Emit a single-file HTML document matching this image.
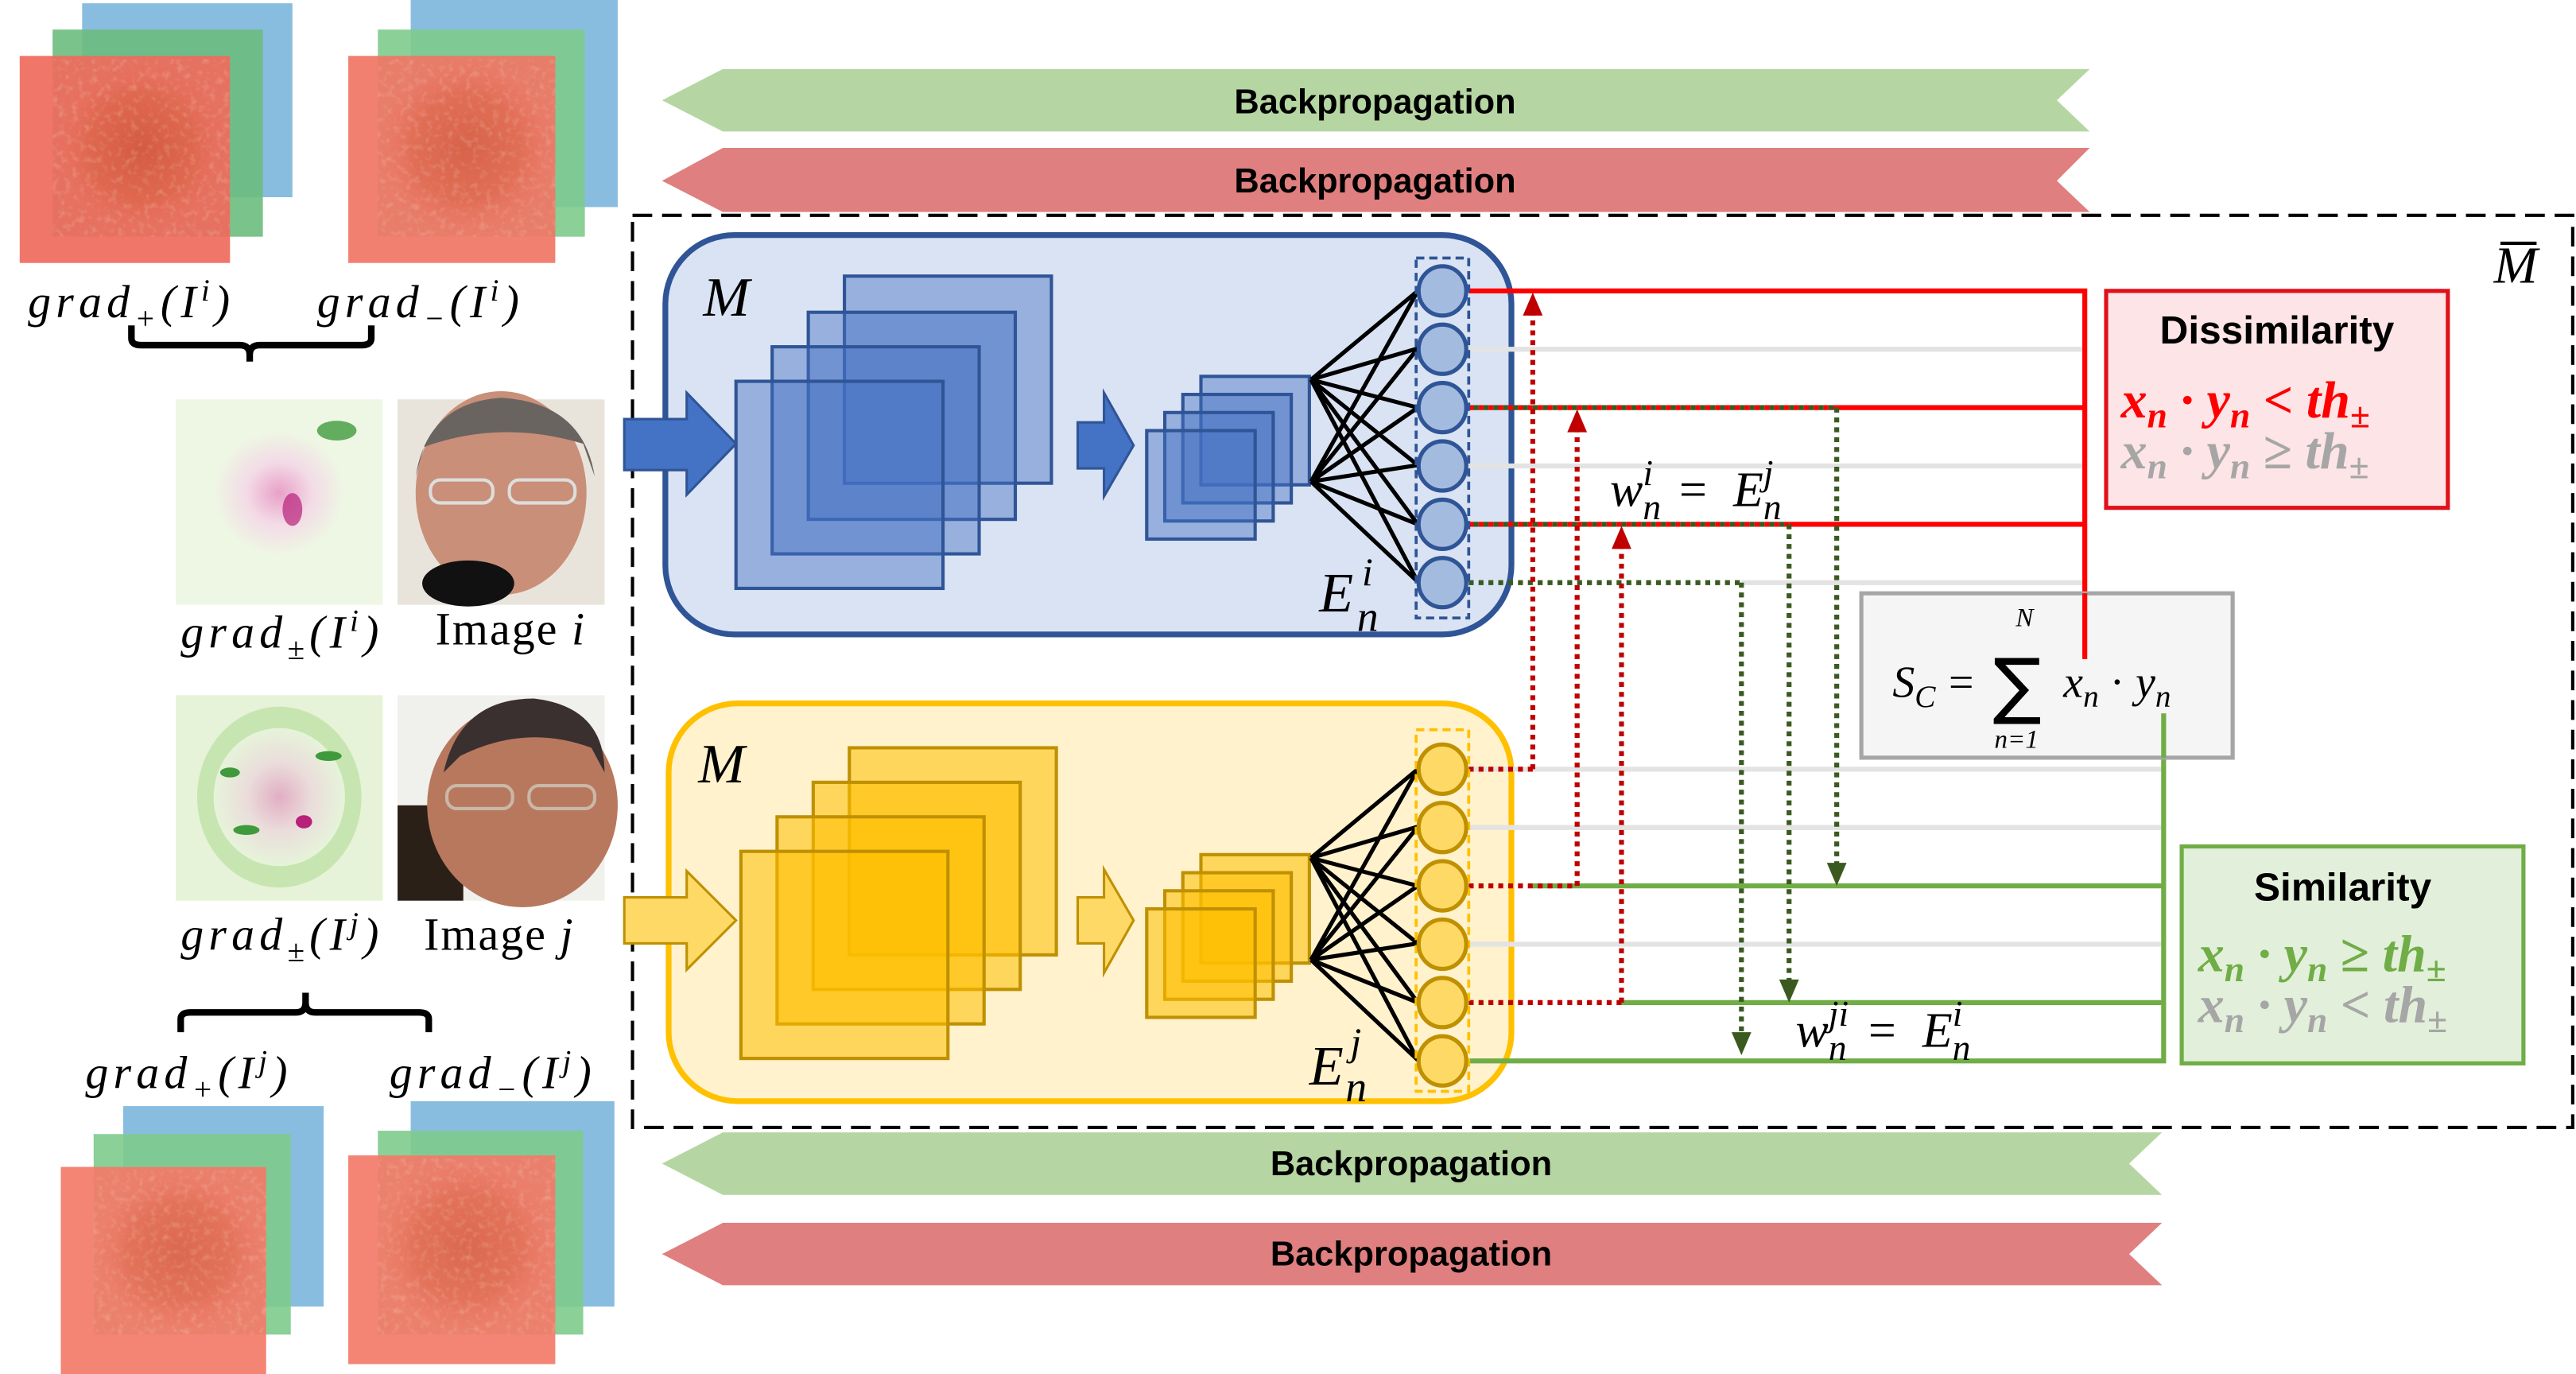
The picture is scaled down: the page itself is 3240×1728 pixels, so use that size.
<!DOCTYPE html>
<html><head><meta charset="utf-8"><style>
html,body{margin:0;padding:0;background:#fff}
svg{display:block}
.m{font-family:"Liberation Serif",serif;font-style:italic}
.b{font-family:"Liberation Sans",sans-serif;font-weight:bold}
</style></head><body>
<svg width="3240" height="1728" viewBox="0 0 1568 836" preserveAspectRatio="none" xmlns="http://www.w3.org/2000/svg">
<defs>
<filter id="tex" x="0" y="0" width="100%" height="100%">
<feTurbulence type="fractalNoise" baseFrequency="0.25" numOctaves="2" seed="3"/>
<feColorMatrix type="matrix" values="0 0 0 0 0.95  0 0 0 0 0.85  0 0 0 0 0.75  0 0 0 1.4 -0.7"/>
</filter>
<radialGradient id="gp" cx="0.5" cy="0.5" r="0.5"><stop offset="0" stop-color="#e8a0c8"/><stop offset="0.5" stop-color="#f3dbe6"/><stop offset="1" stop-color="#eef7e4"/></radialGradient>
<radialGradient id="rc" cx="0.5" cy="0.5" r="0.5"><stop offset="0" stop-color="#cc5234"/><stop offset="0.6" stop-color="#dc6448"/><stop offset="1" stop-color="#ef7060" stop-opacity="0"/></radialGradient>
</defs>

<!-- gradient stacks -->
<g>
<rect x="50" y="2" width="128" height="118" fill="#88bde0"/>
<rect x="32" y="18" width="128" height="126" fill="#6cbd7e" opacity="0.9"/>
<rect x="12" y="34" width="128" height="126" fill="#ef6a5c" opacity="0.92"/>
<rect x="32" y="36" width="108" height="108" fill="url(#rc)" opacity="0.7"/>
<rect x="32" y="36" width="108" height="108" filter="url(#tex)" opacity="0.4"/>

<rect x="250" y="0" width="126" height="126" fill="#88bde0"/>
<rect x="230" y="18" width="126" height="126" fill="#7ecb8c" opacity="0.9"/>
<rect x="212" y="34" width="126" height="126" fill="#f07565" opacity="0.92"/>
<rect x="230" y="36" width="108" height="108" fill="url(#rc)" opacity="0.6"/>
<rect x="230" y="36" width="108" height="108" filter="url(#tex)" opacity="0.4"/>

<rect x="75" y="673" width="122" height="122" fill="#88bde0"/>
<rect x="57" y="690" width="120" height="122" fill="#7ecb8c" opacity="0.9"/>
<rect x="37" y="710" width="125" height="126" fill="#f37a68" opacity="0.92"/>
<rect x="57" y="712" width="105" height="100" fill="url(#rc)" opacity="0.5"/>
<rect x="57" y="712" width="105" height="100" filter="url(#tex)" opacity="0.4"/>

<rect x="250" y="670" width="124" height="125" fill="#88bde0"/>
<rect x="230" y="688" width="125" height="124" fill="#7ecb8c" opacity="0.9"/>
<rect x="212" y="703" width="126" height="127" fill="#f37a68" opacity="0.92"/>
<rect x="230" y="705" width="108" height="107" fill="url(#rc)" opacity="0.5"/>
<rect x="230" y="705" width="108" height="107" filter="url(#tex)" opacity="0.4"/>
</g>

<!-- grad± and photos -->
<rect x="107" y="243" width="126" height="125" fill="#eef7e4"/>
<ellipse cx="170" cy="300" rx="40" ry="38" fill="url(#gp)"/>
<ellipse cx="205" cy="262" rx="12" ry="6" fill="#3f9a3c" opacity="0.8"/>
<ellipse cx="178" cy="310" rx="6" ry="10" fill="#b8207a" opacity="0.7"/>
<rect x="107" y="423" width="126" height="125" fill="#e6f3d8"/>
<ellipse cx="170" cy="485" rx="50" ry="55" fill="#c7e5b0"/>
<ellipse cx="170" cy="485" rx="40" ry="42" fill="url(#gp)" opacity="0.8"/>
<ellipse cx="140" cy="470" rx="6" ry="3" fill="#3f9a3c"/><ellipse cx="200" cy="460" rx="8" ry="3" fill="#3f9a3c"/>
<ellipse cx="150" cy="505" rx="8" ry="3" fill="#3f9a3c"/><ellipse cx="185" cy="500" rx="5" ry="4" fill="#b8207a"/>

<rect x="242" y="243" width="126" height="125" fill="#e8e4dc"/>
<ellipse cx="305" cy="300" rx="52" ry="62" fill="#c98f78"/>
<path d="M253 290 Q260 245 305 242 Q355 245 362 290 L355 270 Q305 255 258 272Z" fill="#6a6460"/>
<rect x="262" y="292" width="38" height="14" rx="6" fill="none" stroke="#ddd" stroke-width="2"/>
<rect x="310" y="292" width="40" height="14" rx="6" fill="none" stroke="#ddd" stroke-width="2"/>
<ellipse cx="285" cy="355" rx="28" ry="14" fill="#111"/>
<rect x="242" y="423" width="126" height="125" fill="#f0f0ec"/>
<rect x="242" y="490" width="40" height="58" fill="#2a2018"/>
<ellipse cx="318" cy="490" rx="58" ry="62" fill="#b8785e"/>
<path d="M270 470 Q280 425 325 425 Q368 430 368 470 L360 455 Q320 440 280 460Z" fill="#3a3030"/>
<rect x="272" y="478" width="40" height="14" rx="6" fill="none" stroke="#c9b8a8" stroke-width="2"/>
<rect x="322" y="478" width="40" height="14" rx="6" fill="none" stroke="#c9b8a8" stroke-width="2"/>

<!-- left labels -->
<g class="m" font-size="28" fill="#000">
<text x="17" y="193" letter-spacing="3">grad<tspan font-size="19" dy="7">+</tspan><tspan dy="-7">(I</tspan><tspan font-size="19" dy="-10">i</tspan><tspan dy="10">)</tspan></text>
<text x="193" y="193" letter-spacing="3">grad<tspan font-size="19" dy="7">−</tspan><tspan dy="-7">(I</tspan><tspan font-size="19" dy="-10">i</tspan><tspan dy="10">)</tspan></text>
<text x="110" y="394" letter-spacing="3">grad<tspan font-size="19" dy="7">±</tspan><tspan dy="-7">(I</tspan><tspan font-size="19" dy="-10">i</tspan><tspan dy="10">)</tspan></text>
<text x="110" y="578" letter-spacing="3">grad<tspan font-size="19" dy="7">±</tspan><tspan dy="-7">(I</tspan><tspan font-size="19" dy="-10">j</tspan><tspan dy="10">)</tspan></text>
<text x="52" y="662" letter-spacing="3">grad<tspan font-size="19" dy="7">+</tspan><tspan dy="-7">(I</tspan><tspan font-size="19" dy="-10">j</tspan><tspan dy="10">)</tspan></text>
<text x="237" y="662" letter-spacing="3">grad<tspan font-size="19" dy="7">−</tspan><tspan dy="-7">(I</tspan><tspan font-size="19" dy="-10">j</tspan><tspan dy="10">)</tspan></text>
</g>
<g font-family="Liberation Serif,serif" font-size="28">
<text x="265" y="392" letter-spacing="1">Image <tspan font-style="italic">i</tspan></text>
<text x="258" y="578" letter-spacing="1">Image <tspan font-style="italic">j</tspan></text>
</g>
<path d="M80 198 V206 Q80 210 86 210 H146 Q152 210 152 216 V220 M152 216 Q152 210 158 210 H220 Q226 210 226 206 V198" fill="none" stroke="#000" stroke-width="4"/>
<path d="M110 628 V620 Q110 616 116 616 H180 Q186 616 186 610 V604 M186 610 Q186 616 192 616 H255 Q261 616 261 620 V628" fill="none" stroke="#000" stroke-width="4"/>

<!-- backprop arrows -->
<polygon points="403,61 440,42 1272,42 1252,61 1272,80 440,80" fill="#b5d6a2"/>
<polygon points="403,110 440,90 1272,90 1252,110 1272,129 440,129" fill="#e07f7f"/>
<polygon points="403,708 440,689 1316,689 1296,708 1316,727 440,727" fill="#b5d6a2"/>
<polygon points="403,763 440,744 1316,744 1296,763 1316,782 440,782" fill="#e07f7f"/>
<g class="b" font-size="21" text-anchor="middle">
<text x="837" y="69">Backpropagation</text>
<text x="837" y="117">Backpropagation</text>
<text x="859" y="715">Backpropagation</text>
<text x="859" y="770">Backpropagation</text>
</g>

<!-- dashed outer box -->
<rect x="385" y="131" width="1181" height="555" fill="none" stroke="#000" stroke-width="2" stroke-dasharray="12,6"/>
<text class="m" x="1518" y="172" font-size="32">M</text>
<line x1="1522" y1="148" x2="1544" y2="148" stroke="#000" stroke-width="2"/>

<!-- blue panel -->
<rect x="405" y="143" width="515" height="243" rx="42" fill="#dae3f3" stroke="#2f5597" stroke-width="3.5"/>
<g fill="#4472c4" fill-opacity="0.45" stroke="#2f5597" stroke-width="2">
<rect x="514" y="168" width="126" height="126"/><rect x="492" y="190" width="126" height="126"/>
<rect x="470" y="211" width="126" height="126"/><rect x="448" y="232" width="126" height="126"/>
<rect x="731" y="229" width="66" height="66"/><rect x="720" y="240" width="66" height="66"/>
<rect x="709" y="251" width="66" height="66"/><rect x="698" y="262" width="66" height="66"/>
</g>
<polygon points="380,255 418,255 418,239 448,270 418,301 418,286 380,286" fill="#4472c4" stroke="#2f5597" stroke-width="1.5"/>
<polygon points="656,257 672,257 672,239 690,271 672,302 672,285 656,285" fill="#4472c4" stroke="#2f5597" stroke-width="1.5"/>

<!-- yellow panel -->
<rect x="407" y="428" width="513" height="242" rx="42" fill="#fff2cc" stroke="#ffc000" stroke-width="3.5"/>
<g fill="#ffc000" fill-opacity="0.55" stroke="#bf9000" stroke-width="2">
<rect x="517" y="455" width="126" height="126"/><rect x="495" y="476" width="126" height="126"/>
<rect x="473" y="497" width="126" height="126"/><rect x="451" y="518" width="126" height="126"/>
<rect x="731" y="520" width="66" height="66"/><rect x="720" y="531" width="66" height="66"/>
<rect x="709" y="542" width="66" height="66"/><rect x="698" y="553" width="66" height="66"/>
</g>
<polygon points="380,546 418,546 418,530 448,560 418,590 418,574 380,574" fill="#ffd966" stroke="#bf9000" stroke-width="1.5"/>
<polygon points="656,546 672,546 672,529 690,560 672,592 672,574 656,574" fill="#ffd966" stroke="#bf9000" stroke-width="1.5"/>

<g class="m" font-size="34">
<text x="428" y="192">M</text><text x="425" y="476">M</text>
<text x="803" y="372">E</text><text x="826" y="384" font-size="26">n</text><text x="829" y="356" font-size="24">i</text>
<text x="797" y="660">E</text><text x="819" y="670" font-size="26">n</text><text x="822" y="642" font-size="24">j</text>
</g>

<!-- fan connections -->
<g stroke="#000" stroke-width="2.5" fill="none">
<path d="M798 231 L863 177 M798 231 L863 212 M798 231 L863 248 M798 231 L863 283 M798 231 L863 319 M798 231 L863 354"/>
<path d="M798 293 L863 177 M798 293 L863 212 M798 293 L863 248 M798 293 L863 283 M798 293 L863 319 M798 293 L863 354"/>
<path d="M798 522 L863 468 M798 522 L863 503 M798 522 L863 539 M798 522 L863 574 M798 522 L863 610 M798 522 L863 645"/>
<path d="M798 584 L863 468 M798 584 L863 503 M798 584 L863 539 M798 584 L863 574 M798 584 L863 610 M798 584 L863 645"/>
</g>

<!-- right side lines -->
<g stroke-width="3" fill="none">
<line x1="894" y1="212.5" x2="1269" y2="212.5" stroke="#e3e3e3"/>
<line x1="894" y1="283.5" x2="1269" y2="283.5" stroke="#e3e3e3"/>
<line x1="1060" y1="354.5" x2="1269" y2="354.5" stroke="#e3e3e3"/>
<line x1="894" y1="468" x2="1317" y2="468" stroke="#e3e3e3"/>
<line x1="894" y1="503.5" x2="1317" y2="503.5" stroke="#e3e3e3"/>
<line x1="894" y1="574.5" x2="1317" y2="574.5" stroke="#e3e3e3"/>
<path d="M894 177 H1269 V401" stroke="#ff0000"/>
<line x1="1118" y1="248" x2="1269" y2="248" stroke="#ff0000"/>
<line x1="1089" y1="319" x2="1269" y2="319" stroke="#ff0000"/>
<line x1="894" y1="248" x2="1118" y2="248" stroke="#ff0000" stroke-dasharray="3,3"/>
<line x1="897" y1="248" x2="1118" y2="248" stroke="#3a5a20" stroke-dasharray="3,3"/>
<line x1="894" y1="319" x2="1089" y2="319" stroke="#ff0000" stroke-dasharray="3,3"/>
<line x1="897" y1="319" x2="1089" y2="319" stroke="#3a5a20" stroke-dasharray="3,3"/>
<line x1="894" y1="354.5" x2="1060" y2="354.5" stroke="#3a5a20" stroke-dasharray="3,3"/>
<line x1="933" y1="539" x2="1317" y2="539" stroke="#70ad47"/>
<line x1="987" y1="610" x2="1317" y2="610" stroke="#70ad47"/>
<path d="M894 645.5 H1317 V434" stroke="#70ad47"/>
<line x1="894" y1="468" x2="933" y2="468" stroke="#c00000" stroke-dasharray="3,3"/>
<line x1="894" y1="539" x2="960" y2="539" stroke="#c00000" stroke-dasharray="3,3"/>
<line x1="894" y1="610" x2="987" y2="610" stroke="#c00000" stroke-dasharray="3,3"/>
<line x1="933" y1="468" x2="933" y2="190" stroke="#c00000" stroke-dasharray="3,3"/>
<line x1="960" y1="539" x2="960" y2="261" stroke="#c00000" stroke-dasharray="3,3"/>
<line x1="987" y1="610" x2="987" y2="332" stroke="#c00000" stroke-dasharray="3,3"/>
<line x1="1118" y1="248" x2="1118" y2="527" stroke="#3a5a20" stroke-dasharray="3,3"/>
<line x1="1089" y1="319" x2="1089" y2="598" stroke="#3a5a20" stroke-dasharray="3,3"/>
<line x1="1060" y1="354.5" x2="1060" y2="633" stroke="#3a5a20" stroke-dasharray="3,3"/>
</g>
<g>
<polygon points="933,178 927,192 939,192" fill="#c00000"/>
<polygon points="960,249 954,263 966,263" fill="#c00000"/>
<polygon points="987,320 981,334 993,334" fill="#c00000"/>
<polygon points="1118,539 1112,525 1124,525" fill="#3a5a20"/>
<polygon points="1089,610 1083,596 1095,596" fill="#3a5a20"/>
<polygon points="1060,642 1054,628 1066,628" fill="#3a5a20"/>
</g>

<!-- neurons -->
<rect x="862" y="157" width="32" height="219" fill="none" stroke="#2f5597" stroke-width="1.8" stroke-dasharray="5,3"/>
<rect x="862" y="444" width="32" height="220" fill="none" stroke="#ffc000" stroke-width="1.8" stroke-dasharray="5,3"/>
<g fill="#a4bbe0" stroke="#2f5597" stroke-width="2.5">
<ellipse cx="878" cy="177" rx="14.5" ry="15"/><ellipse cx="878" cy="212.5" rx="14.5" ry="15"/>
<ellipse cx="878" cy="248" rx="14.5" ry="15"/><ellipse cx="878" cy="283.5" rx="14.5" ry="15"/>
<ellipse cx="878" cy="319" rx="14.5" ry="15"/><ellipse cx="878" cy="354.5" rx="14.5" ry="15"/>
</g>
<g fill="#ffd966" stroke="#bf9000" stroke-width="2.5">
<ellipse cx="878" cy="468" rx="14.5" ry="15"/><ellipse cx="878" cy="503.5" rx="14.5" ry="15"/>
<ellipse cx="878" cy="539" rx="14.5" ry="15"/><ellipse cx="878" cy="574.5" rx="14.5" ry="15"/>
<ellipse cx="878" cy="610" rx="14.5" ry="15"/><ellipse cx="878" cy="645.5" rx="14.5" ry="15"/>
</g>

<!-- weight labels -->
<g class="m" font-size="30">
<text x="980" y="308">w<tspan font-size="22" dy="8">n</tspan><tspan font-size="22" dx="-11" dy="-21">i</tspan><tspan dx="16" dy="13" font-style="normal">=</tspan><tspan dx="16">E</tspan><tspan font-size="22" dy="8">n</tspan><tspan font-size="22" dx="-11" dy="-21">j</tspan></text>
<text x="1093" y="637">w<tspan font-size="22" dy="8">n</tspan><tspan font-size="22" dx="-11" dy="-21">ji</tspan><tspan dx="12" dy="13" font-style="normal">=</tspan><tspan dx="16">E</tspan><tspan font-size="22" dy="8">n</tspan><tspan font-size="22" dx="-11" dy="-21">i</tspan></text>
</g>

<!-- Sc box -->
<rect x="1133" y="361" width="226" height="100" fill="#f5f5f5" stroke="#a6a6a6" stroke-width="2.5"/>
<line x1="1269" y1="361" x2="1269" y2="401" stroke="#ff0000" stroke-width="3"/>
<line x1="1317" y1="434" x2="1317" y2="461" stroke="#70ad47" stroke-width="3"/>
<g class="m" font-size="27">
<text x="1152" y="424">S<tspan font-size="19" dy="6">C</tspan><tspan dx="8" dy="-6" font-style="normal">=</tspan></text>
<text x="1227" y="381" font-size="16">N</text>
<text x="1214" y="455" font-size="16">n=1</text>
<text x="1256" y="424">x<tspan font-size="19" dy="6">n</tspan><tspan dy="-6" font-style="normal"> · </tspan>y<tspan font-size="19" dy="6">n</tspan></text>
</g>
<text x="1213" y="432" font-family="DejaVu Sans,sans-serif" font-size="44">∑</text>

<!-- Dissimilarity box -->
<rect x="1282" y="177" width="208" height="132" fill="#fde4e6" stroke="#e0101a" stroke-width="2.5"/>
<text class="b" x="1386" y="209" font-size="24" text-anchor="middle">Dissimilarity</text>
<g class="m" font-size="32" font-weight="bold">
<text x="1291" y="254" fill="#ff0000">x<tspan font-size="22" dy="6">n</tspan><tspan dy="-6"> · y</tspan><tspan font-size="22" dy="6">n</tspan><tspan dy="-6" font-style="normal"> &lt; </tspan>th<tspan font-size="22" dy="6">±</tspan></text>
<text x="1291" y="285" fill="#a6a6a6">x<tspan font-size="22" dy="6">n</tspan><tspan dy="-6"> · y</tspan><tspan font-size="22" dy="6">n</tspan><tspan dy="-6" font-style="normal"> ≥ </tspan>th<tspan font-size="22" dy="6">±</tspan></text>
</g>

<!-- Similarity box -->
<rect x="1328" y="515" width="208" height="132" fill="#e2efda" stroke="#70ad47" stroke-width="2.5"/>
<text class="b" x="1426" y="548" font-size="24" text-anchor="middle">Similarity</text>
<g class="m" font-size="32" font-weight="bold">
<text x="1338" y="591" fill="#70ad47">x<tspan font-size="22" dy="6">n</tspan><tspan dy="-6"> · y</tspan><tspan font-size="22" dy="6">n</tspan><tspan dy="-6" font-style="normal"> ≥ </tspan>th<tspan font-size="22" dy="6">±</tspan></text>
<text x="1338" y="622" fill="#a6a6a6">x<tspan font-size="22" dy="6">n</tspan><tspan dy="-6"> · y</tspan><tspan font-size="22" dy="6">n</tspan><tspan dy="-6" font-style="normal"> &lt; </tspan>th<tspan font-size="22" dy="6">±</tspan></text>
</g>
</svg>
</body></html>
